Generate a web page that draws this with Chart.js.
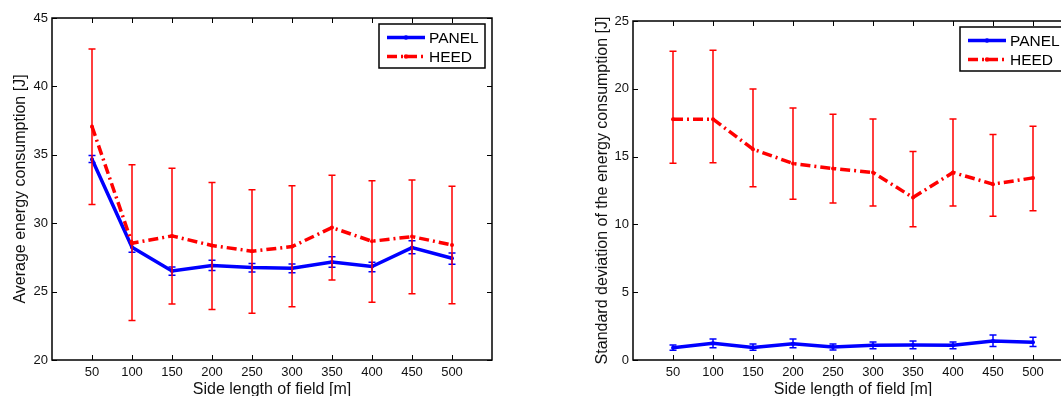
<!DOCTYPE html>
<html>
<head>
<meta charset="utf-8">
<script src="https://cdn.jsdelivr.net/npm/chart.js@4/dist/chart.umd.min.js"></script>
<style>
  html, body { margin: 0; padding: 0; background: #fff; overflow: hidden; width: 1061px; height: 396px; }
  #wrapAvg { position: absolute; left: 0; top: 0; width: 520px; height: 396px; }
  #wrapStd { position: absolute; left: 540px; top: 0; width: 560px; height: 396px; }
</style>
</head>
<body>
<div id="wrapAvg"><canvas id="avg"></canvas></div>
<div id="wrapStd"><canvas id="std"></canvas></div>
<script>
// Side length of the field (x values) and tick labels
var sideLengths = [50, 100, 150, 200, 250, 300, 350, 400, 450, 500];
var xTicks = [50, 100, 150, 200, 250, 300, 350, 400, 450, 500];
var avgTicks = [20, 25, 30, 35, 40, 45];
var stdTicks = [0, 5, 10, 15, 20, 25];

// Average energy consumption [J]
var avgPanel     = [34.68, 28.24, 26.51, 26.90, 26.76, 26.70, 27.17, 26.83, 28.22, 27.44];
var avgPanelLow  = [34.44, 27.88, 26.20, 26.54, 26.44, 26.37, 26.78, 26.46, 27.76, 27.00];
var avgPanelHigh = [34.95, 28.59, 26.80, 27.30, 27.05, 27.02, 27.54, 27.15, 28.71, 27.83];
var avgHeed      = [37.07, 28.54, 29.07, 28.37, 27.95, 28.29, 29.68, 28.68, 29.02, 28.41];
var avgHeedLow   = [31.37, 22.88, 24.10, 23.70, 23.41, 23.90, 25.85, 24.22, 24.85, 24.12];
var avgHeedHigh  = [42.73, 34.27, 34.02, 32.98, 32.44, 32.73, 33.51, 33.10, 33.15, 32.71];

// Standard deviation of the energy consumption [J]
var stdPanel     = [0.91, 1.23, 0.93, 1.20, 0.96, 1.08, 1.10, 1.08, 1.40, 1.30];
var stdPanelLow  = [0.71, 0.91, 0.71, 0.91, 0.74, 0.83, 0.83, 0.83, 1.00, 1.00];
var stdPanelHigh = [1.10, 1.55, 1.18, 1.55, 1.18, 1.33, 1.40, 1.33, 1.84, 1.67];
var stdHeed      = [17.76, 17.76, 15.55, 14.49, 14.12, 13.83, 11.98, 13.83, 12.97, 13.43];
var stdHeedLow   = [14.51, 14.54, 12.77, 11.86, 11.57, 11.35, 9.82, 11.35, 10.61, 11.00];
var stdHeedHigh  = [22.77, 22.84, 19.99, 18.59, 18.12, 17.78, 15.37, 17.78, 16.63, 17.24];

var FONT = "'Liberation Sans', Arial, Helvetica, sans-serif";

function points(ys) {
  return ys.map(function (y, i) { return { x: sideLengths[i], y: y }; });
}

// matlab-ish look: error bars, boxed axes with inward ticks, framed legend
var matlabLook = {
  id: 'matlabLook',
  afterDatasetDraw: function (chart, args) {
    var ds = chart.data.datasets[args.index];
    if (!ds.errLow) return;
    var ctx = chart.ctx, xs = chart.scales.x, ys = chart.scales.y;
    ctx.save();
    ctx.strokeStyle = ds.borderColor;
    ctx.lineWidth = 1.5;
    ds.data.forEach(function (p, i) {
      var x = xs.getPixelForValue(p.x);
      var y1 = ys.getPixelForValue(ds.errLow[i]);
      var y2 = ys.getPixelForValue(ds.errHigh[i]);
      ctx.beginPath();
      ctx.moveTo(x, y1); ctx.lineTo(x, y2);
      ctx.moveTo(x - 3.5, y1); ctx.lineTo(x + 3.5, y1);
      ctx.moveTo(x - 3.5, y2); ctx.lineTo(x + 3.5, y2);
      ctx.stroke();
    });
    ctx.restore();
  },
  afterDraw: function (chart) {
    var ctx = chart.ctx, a = chart.chartArea;
    var xs = chart.scales.x, ys = chart.scales.y;
    ctx.save();
    ctx.strokeStyle = '#000';
    ctx.lineWidth = 1;
    ctx.beginPath();
    xs.ticks.forEach(function (t) {
      var x = Math.round(xs.getPixelForValue(t.value)) + 0.5;
      ctx.moveTo(x, a.bottom); ctx.lineTo(x, a.bottom - 5);
      ctx.moveTo(x, a.top); ctx.lineTo(x, a.top + 5);
    });
    ys.ticks.forEach(function (t) {
      var y = Math.round(ys.getPixelForValue(t.value)) + 0.5;
      ctx.moveTo(a.left, y); ctx.lineTo(a.left + 5, y);
      ctx.moveTo(a.right, y); ctx.lineTo(a.right - 5, y);
    });
    ctx.stroke();
    ctx.lineWidth = 1.5;
    ctx.strokeRect(a.left, a.top, a.right - a.left, a.bottom - a.top);

    // legend
    var w = 106, h = 44;
    var bx = a.right - 7 - w, by = a.top + 6;
    ctx.fillStyle = '#fff';
    ctx.fillRect(bx, by, w, h);
    ctx.lineWidth = 1.5;
    ctx.strokeStyle = '#000';
    ctx.strokeRect(bx, by, w, h);
    ctx.font = '15.5px ' + FONT;
    ctx.textBaseline = 'middle';
    chart.data.datasets.forEach(function (ds, i) {
      var yy = by + 13.5 + i * 19;
      ctx.strokeStyle = ds.borderColor;
      ctx.lineWidth = ds.borderWidth;
      ctx.setLineDash(ds.borderDash || []);
      ctx.beginPath();
      ctx.moveTo(bx + 8, yy); ctx.lineTo(bx + 46, yy);
      ctx.stroke();
      ctx.setLineDash([]);
      ctx.fillStyle = ds.borderColor;
      ctx.beginPath();
      ctx.arc(bx + 27, yy, 2.2, 0, Math.PI * 2);
      ctx.fill();
      ctx.fillStyle = '#000';
      ctx.fillText(ds.label, bx + 50, yy + 1);
    });
    ctx.restore();
  }
};

function makeChart(id, cfg) {
  return new Chart(document.getElementById(id), {
    type: 'line',
    data: {
      datasets: [
        {
          label: 'PANEL',
          data: points(cfg.panel),
          errLow: cfg.panelLow,
          errHigh: cfg.panelHigh,
          borderColor: '#0000ff',
          backgroundColor: '#0000ff',
          borderWidth: 3.5,
          pointRadius: 2,
          pointBorderWidth: 0,
          tension: 0,
          order: 1
        },
        {
          label: 'HEED',
          data: points(cfg.heed),
          errLow: cfg.heedLow,
          errHigh: cfg.heedHigh,
          borderColor: '#ff0000',
          backgroundColor: '#ff0000',
          borderWidth: 3.5,
          borderDash: [10, 4, 2, 4],
          pointRadius: 2,
          pointBorderWidth: 0,
          tension: 0,
          order: 0
        }
      ]
    },
    options: {
      responsive: true,
      maintainAspectRatio: false,
      animation: false,
      layout: { padding: { top: cfg.padTop, right: cfg.padRight, left: 0, bottom: 0 } },
      plugins: { legend: { display: false }, tooltip: { enabled: false } },
      scales: {
        x: {
          type: 'linear',
          min: 0,
          max: 550,
          afterBuildTicks: function (s) { s.ticks = xTicks.map(function (v) { return { value: v }; }); },
          afterFit: function (s) { s.height = 36; },
          grid: { display: false, drawTicks: false },
          border: { display: false },
          ticks: { color: '#111', padding: 5, maxRotation: 0, font: { family: FONT, size: 13 } },
          title: {
            display: true,
            text: 'Side length of field [m]',
            color: '#111',
            padding: { top: 0, bottom: -1.5 },
            font: { family: FONT, size: 16, lineHeight: 1 }
          }
        },
        y: {
          min: cfg.yTicks[0],
          max: cfg.yTicks[cfg.yTicks.length - 1],
          afterBuildTicks: function (s) { s.ticks = cfg.yTicks.map(function (v) { return { value: v }; }); },
          afterFit: function (s) { s.width = cfg.yWidth; },
          grid: { display: false, drawTicks: false },
          border: { display: false },
          ticks: { color: '#111', padding: 4, font: { family: FONT, size: 13 } },
          title: {
            display: true,
            text: cfg.yTitle,
            color: '#111',
            padding: { top: cfg.titlePad, bottom: 0 },
            font: { family: FONT, size: 16, lineHeight: 1 }
          }
        }
      }
    },
    plugins: [matlabLook]
  });
}

makeChart('avg', {
  panel: avgPanel, panelLow: avgPanelLow, panelHigh: avgPanelHigh,
  heed: avgHeed, heedLow: avgHeedLow, heedHigh: avgHeedHigh,
  yTicks: avgTicks, yTitle: 'Average energy consumption [J]',
  padTop: 18, padRight: 28, yWidth: 52, titlePad: 13
});

makeChart('std', {
  panel: stdPanel, panelLow: stdPanelLow, panelHigh: stdPanelHigh,
  heed: stdHeed, heedLow: stdHeedLow, heedHigh: stdHeedHigh,
  yTicks: stdTicks, yTitle: 'Standard deviation of the energy consumption [J]',
  padTop: 21, padRight: 27, yWidth: 93, titlePad: 55
});
</script>
</body>
</html>
